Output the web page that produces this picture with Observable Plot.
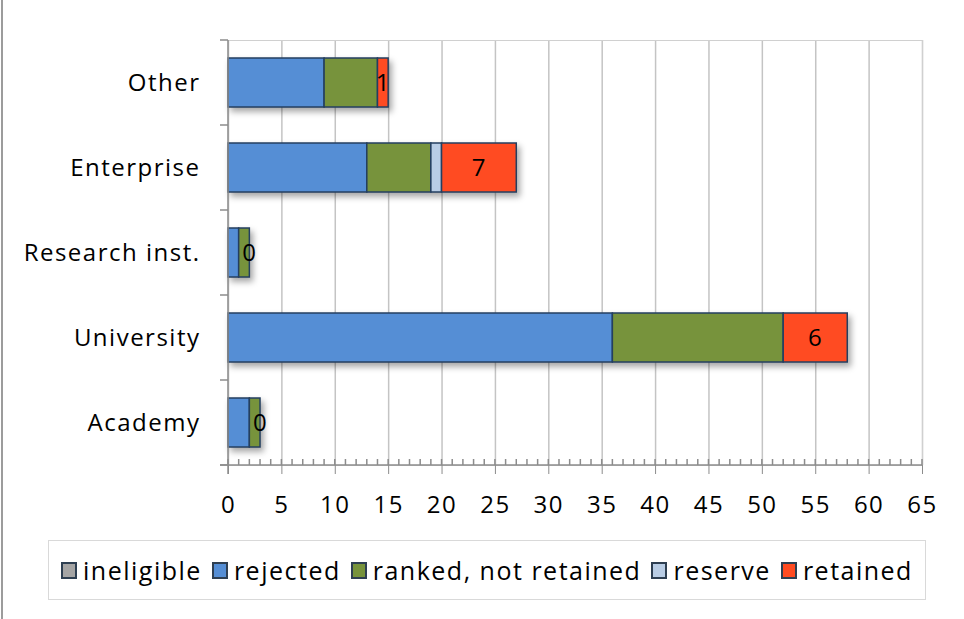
<!DOCTYPE html>
<html>
<head>
<meta charset="utf-8">
<script src="https://cdn.jsdelivr.net/npm/d3@7"></script>
<script src="https://cdn.jsdelivr.net/npm/@observablehq/plot@0.6"></script>
<style>
  html, body { margin: 0; padding: 0; background: #fff; }
  #wrap { position: relative; width: 964px; height: 619px; overflow: hidden; font-family: "Open Sans", sans-serif; }
  #edge { position: absolute; left: 1px; top: 0; width: 2px; height: 619px; background: #9c9c9c; }
  #chart { position: absolute; left: 0; top: 0; }
  #chart svg text { letter-spacing: 1.5px; }
  #legend { position: absolute; left: 48px; top: 540px; width: 878px; height: 60px; border: 1px solid #d9d9d9;
            display: flex; align-items: center; justify-content: center; gap: 10px; font-size: 25px; letter-spacing: 1.5px; color: #000; box-sizing: border-box; }
  .item { display: flex; align-items: center; gap: 6px; white-space: nowrap; }
  .sw { width: 12px; height: 13px; border: 2px solid #2e3f52; box-sizing: content-box; }
</style>
</head>
<body>
<div id="wrap">
  <div id="edge"></div>
  <div id="chart"></div>
  <div id="legend"></div>
</div>
<script>
const categories = ["Other", "Enterprise", "Research inst.", "University", "Academy"];
const series = ["ineligible", "rejected", "ranked, not retained", "reserve", "retained"];
const ineligible = [0, 0, 0, 0, 0];
const rejected = [9, 13, 1, 36, 2];
const ranked = [5, 6, 1, 16, 1];
const reserve = [0, 1, 0, 0, 0];
const retained = [1, 7, 0, 6, 0];
const colors = ["#a5a5a5", "#558ed5", "#77933c", "#b9cde5", "#ff4b22"];
const xTicks = [0, 5, 10, 15, 20, 25, 30, 35, 40, 45, 50, 55, 60, 65];
const minorTicks = d3.range(0, 66, 1);

const valuesBySeries = [ineligible, rejected, ranked, reserve, retained];
const rows = [];
categories.forEach((c, i) => {
  series.forEach((s, j) => rows.push({category: c, series: s, value: valuesBySeries[j][i]}));
});

const plot = Plot.plot({
  width: 964,
  height: 530,
  marginLeft: 228,
  marginRight: 42,
  marginTop: 40,
  marginBottom: 65,
  style: {fontFamily: "'Open Sans', sans-serif", fontSize: "24px", color: "#000", background: "transparent"},
  x: {domain: [0, 65]},
  y: {domain: categories, paddingInner: 0.42, paddingOuter: 0.21, label: null},
  color: {domain: series, range: colors},
  marks: [
    Plot.gridX(xTicks, {stroke: "#c4c4c4", strokeOpacity: 1, strokeWidth: 1.5}),
    Plot.frame({stroke: "#d0d0d0"}),
    Plot.barX(rows.filter(d => d.value > 0), Plot.stackX({
      x: "value", y: "category", fill: "series", order: series,
      stroke: "#243f60", strokeWidth: 1.5
    })),
    Plot.text(rows, Plot.stackX({
      x: "value", y: "category", z: "series", order: series,
      text: d => d.series === "retained" ? String(d.value) : null,
      fontSize: 24, fill: "#000"
    })),
    Plot.axisX(xTicks, {tickSize: 9, tickPadding: 21, label: null, fontSize: 24, stroke: "#8c8c8c"}),
    Plot.axisY({tickSize: 0, tickPadding: 28, label: null, fontSize: 24})
  ]
});

document.getElementById("chart").appendChild(plot);

const xs = plot.scale("x"), ys = plot.scale("y");
const svg = d3.select(plot);
svg.selectAll('g[aria-label="bar"]').style("filter", "drop-shadow(3px 4px 3px rgba(0,0,0,0.35))");

const [yTop, yBot] = ys.range;
const x0 = xs.apply(0), x1 = xs.apply(65);
const g = svg.append("g").attr("stroke", "#8c8c8c").attr("stroke-width", 1.5);
// bottom axis line
g.append("line").attr("x1", x0 - 8).attr("x2", x1).attr("y1", yBot).attr("y2", yBot);
// left axis line
g.append("line").attr("x1", x0).attr("x2", x0).attr("y1", yTop).attr("y2", yBot + 9);
// minor ticks
minorTicks.forEach(v => {
  g.append("line").attr("x1", xs.apply(v)).attr("x2", xs.apply(v)).attr("y1", yBot - 6).attr("y2", yBot);
});
// category boundary ticks
const step = ys.step;
for (let i = 0; i <= categories.length; i++) {
  const yy = yTop + i * step;
  g.append("line").attr("x1", x0 - 8).attr("x2", x0).attr("y1", yy).attr("y2", yy);
}

const legend = document.getElementById("legend");
series.forEach((s, i) => {
  const it = document.createElement("div");
  it.className = "item";
  const sw = document.createElement("div");
  sw.className = "sw";
  sw.style.background = colors[i];
  const t = document.createElement("span");
  t.textContent = s;
  it.appendChild(sw); it.appendChild(t);
  legend.appendChild(it);
});
</script>
</body>
</html>
